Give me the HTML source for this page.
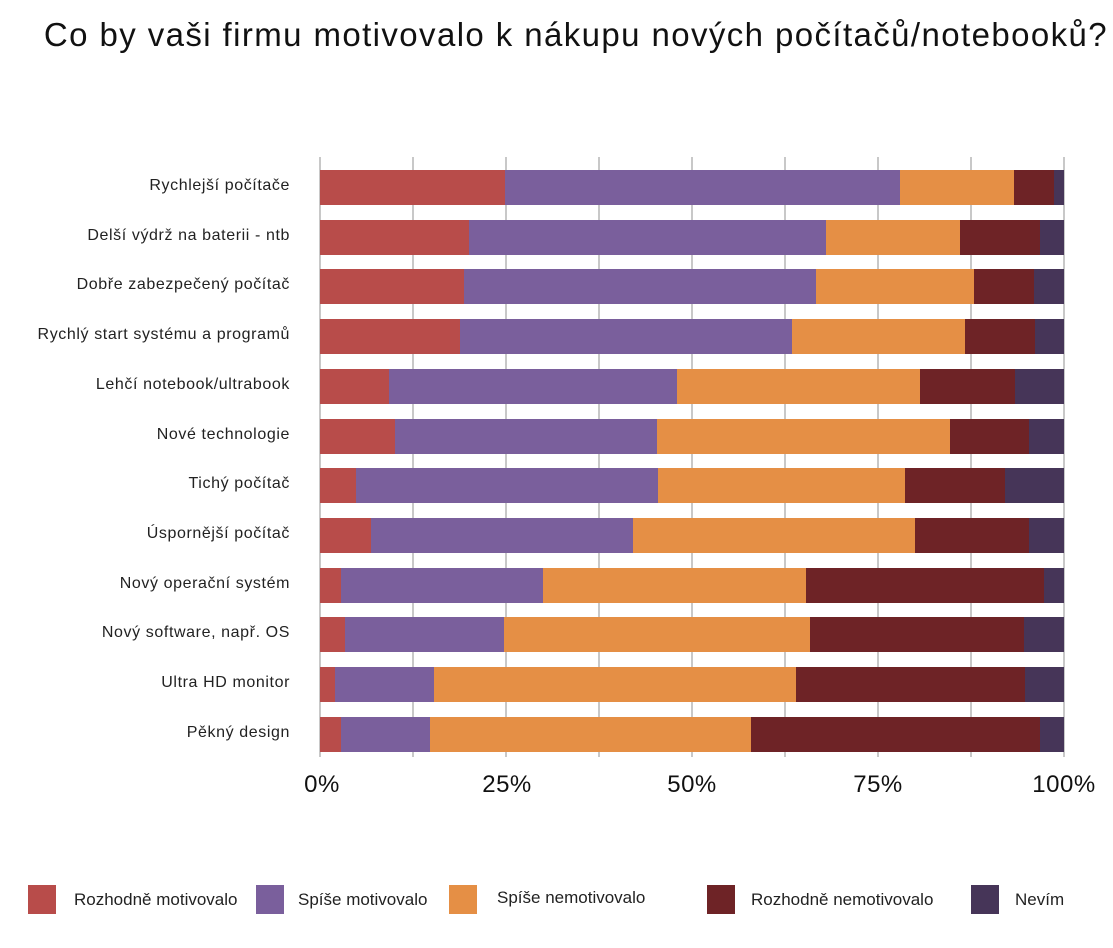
<!DOCTYPE html>
<html><head><meta charset="utf-8"><style>
body{margin:0;width:1113px;height:948px;background:#fff;font-family:"Liberation Sans","DejaVu Sans",sans-serif;position:relative;overflow:hidden}
.t{position:absolute;right:5px;top:16px;font-size:33px;letter-spacing:1.4px;color:#111;white-space:nowrap}
.g{position:absolute;top:157px;height:600px;width:2px;background:#c8c8c8}
.l{position:absolute;right:823px;font-size:16px;letter-spacing:0.6px;color:#222;white-space:nowrap}
.b{position:absolute;height:35px}
.ax{position:absolute;top:771px;font-size:24px;letter-spacing:0.5px;color:#111;transform:translateX(-50%)}
.sq{position:absolute;top:885px;width:28px;height:29px}
.lt{position:absolute;top:890px;font-size:17px;color:#222;white-space:nowrap}
</style></head><body>
<div class="t">Co by vaši firmu motivovalo k nákupu nových počítačů/notebooků?</div>
<div id="bars"></div>
<div class="ax" style="left:322px">0%</div>
<div class="ax" style="left:507px">25%</div>
<div class="ax" style="left:692px">50%</div>
<div class="ax" style="left:878px">75%</div>
<div class="ax" style="left:1064px">100%</div>
<div class="sq" style="left:28px;background:#b84c4a"></div><div class="lt" style="left:74px">Rozhodně motivovalo</div>
<div class="sq" style="left:256px;background:#7a5f9c"></div><div class="lt" style="left:298px">Spíše motivovalo</div>
<div class="sq" style="left:449px;background:#e58f45"></div><div class="lt" style="left:497px;top:888px">Spíše nemotivovalo</div>
<div class="sq" style="left:707px;background:#6e2326"></div><div class="lt" style="left:751px">Rozhodně nemotivovalo</div>
<div class="sq" style="left:971px;background:#463558"></div><div class="lt" style="left:1015px">Nevím</div>
<script>
var labels=["Rychlejší počítače","Delší výdrž na baterii - ntb","Dobře zabezpečený počítač","Rychlý start systému a programů","Lehčí notebook/ultrabook","Nové technologie","Tichý počítač","Úspornější počítač","Nový operační systém","Nový software, např. OS","Ultra HD monitor","Pěkný design"];
var d=[[505,900,1014,1054,1064],[469,826,960,1040,1064],[464,816,974,1034,1064],[460,792,965,1035,1064],[389,677,920,1015,1064],[395,657,950,1029,1064],[356,658,905,1005,1064],[371,633,915,1029,1064],[341,543,806,1044,1064],[345,504,810,1024,1064],[335,434,796,1025,1064],[341,430,751,1040,1064]];
var c=["#b84c4a","#7a5f9c","#e58f45","#6e2326","#463558"];
var h="";
for(var i=0;i<=8;i++){h+='<div class="g" style="left:'+(319+i*93)+'px"></div>';}
for(var r=0;r<12;r++){var y=170+r*49.7;var x=320;
h+='<div class="l" style="top:'+(y+7)+'px">'+labels[r]+'</div>';
for(var k=0;k<5;k++){h+='<div class="b" style="top:'+y+'px;left:'+x+'px;width:'+(d[r][k]-x)+'px;background:'+c[k]+'"></div>';x=d[r][k];}}
document.getElementById("bars").innerHTML=h;
</script>
</body></html>
